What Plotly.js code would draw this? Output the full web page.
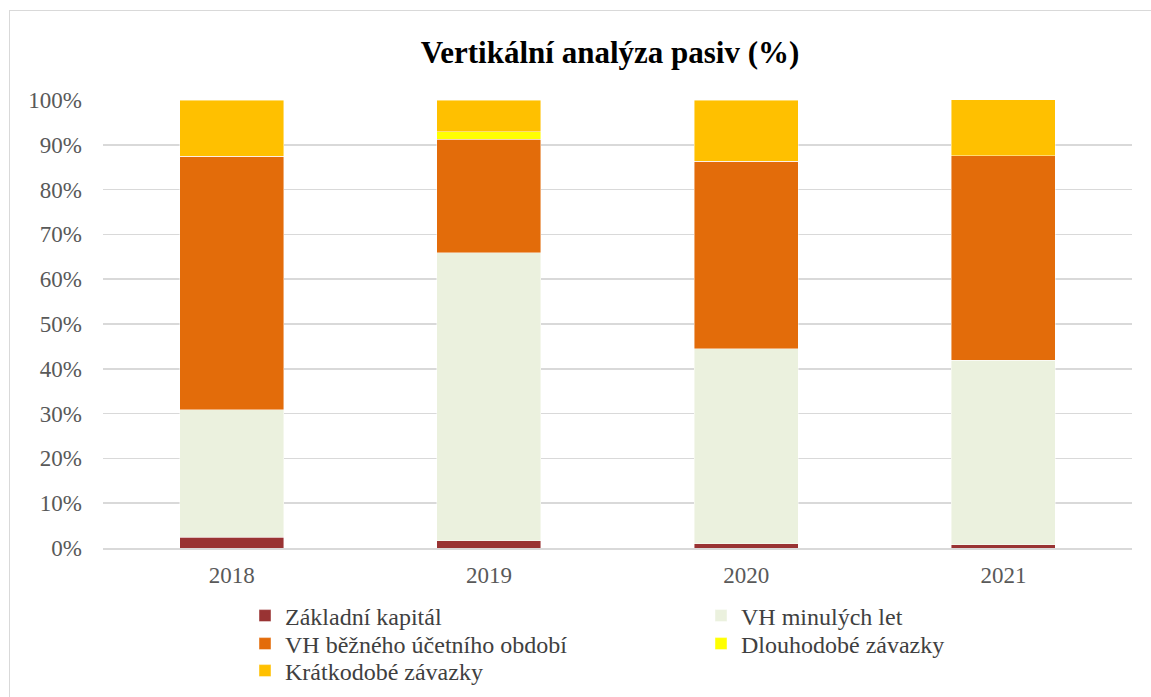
<!DOCTYPE html>
<html>
<head>
<meta charset="utf-8">
<script src="https://cdn.plot.ly/plotly-3.0.1.min.js"></script>
<style>
  html, body { margin: 0; padding: 0; background: #ffffff; }
  #wrap { position: relative; width: 1151px; height: 697px; }
  #chart { position: absolute; left: 0; top: 0; width: 1151px; height: 697px; }
  #frame { position: absolute; left: 9px; top: 10px; width: 1150px; height: 700px;
           border-left: 1.5px solid #d9d9d9; border-top: 1.5px solid #d9d9d9; pointer-events: none; }
</style>
</head>
<body>
<div id="wrap">
  <div id="chart"></div>
  <div id="frame"></div>
</div>
<script>
// Data (shares of total liabilities, %)
const years = ['2018', '2019', '2020', '2021'];
const zakladniKapital = [2.45, 1.6, 0.95, 0.73];
const vhMinulychLet = [28.4, 64.3, 43.5, 41.2];
const vhBeznehoObdobi = [56.65, 25.3, 41.85, 45.6];
const dlouhodobeZavazky = [0, 1.7, 0, 0];
const kratkodobeZavazky = [12.5, 7.1, 13.7, 12.5];
const yTicks = [0, 10, 20, 30, 40, 50, 60, 70, 80, 90, 100];
const yTickLabels = yTicks.map(v => v + '%');

const seriesNames = ['Základní kapitál', 'VH minulých let', 'VH běžného účetního období', 'Dlouhodobé závazky', 'Krátkodobé závazky'];
const seriesValues = [zakladniKapital, vhMinulychLet, vhBeznehoObdobi, dlouhodobeZavazky, kratkodobeZavazky];
const seriesColors = ['#993333', '#ebf1de', '#e36c0a', '#ffff00', '#ffc000'];
const legendIds = ['legend', 'legend2', 'legend3', 'legend4', 'legend5'];

const traces = seriesNames.map((name, i) => ({
  type: 'bar',
  name: name,
  x: years,
  y: seriesValues[i],
  legend: legendIds[i],
  marker: { color: seriesColors[i], line: { color: 'rgba(255,255,255,0.55)', width: 0.8 } },
  hoverinfo: 'name+y'
}));

const serif = '"Liberation Serif", "Times New Roman", serif';
const legendFont = { family: serif, size: 24, color: '#404040' };

// legend entry placement: two columns, three rows (pixel positions in the 1151x697 frame)
const legendCol = [245, 701, 245, 701, 245];
const legendRow = [616, 616, 644, 644, 671];

const layout = {
  width: 1151,
  height: 697,
  paper_bgcolor: '#ffffff',
  plot_bgcolor: '#ffffff',
  barmode: 'stack',
  bargap: 0.596,
  margin: { l: 103, r: 19, t: 100, b: 149, autoexpand: false },
  title: {
    text: '<b>Vertikální analýza pasiv (%)</b>',
    font: { family: serif, size: 31, color: '#000000' },
    xref: 'container', x: 0.53, xanchor: 'center',
    yref: 'container', y: 0.925, yanchor: 'middle'
  },
  font: { family: serif, color: '#595959' },
  xaxis: {
    type: 'category',
    automargin: false,
    tickangle: 0,
    tickfont: { family: serif, size: 23, color: '#595959' },
    showline: true, linecolor: '#d9d9d9', linewidth: 1.5,
    ticks: '', ticklen: 0,
    ticklabelstandoff: 6,
    showgrid: false
  },
  yaxis: {
    range: [0, 100],
    automargin: false,
    tickvals: yTicks,
    ticktext: yTickLabels,
    tickfont: { family: serif, size: 23, color: '#595959' },
    showgrid: true, gridcolor: '#d9d9d9', gridwidth: 1.5,
    zeroline: false,
    showline: false,
    ticks: '',
    ticklabelstandoff: 20
  },
  showlegend: true
};

legendIds.forEach((id, i) => {
  layout[id] = {
    orientation: 'v',
    xref: 'container', yref: 'container',
    x: legendCol[i] / 1151, xanchor: 'left',
    y: 1 - legendRow[i] / 697, yanchor: 'middle',
    font: legendFont,
    bgcolor: 'rgba(0,0,0,0)',
    itemclick: false, itemdoubleclick: false
  };
});

Plotly.newPlot('chart', traces, layout, { displayModeBar: false, staticPlot: true });
</script>
</body>
</html>
